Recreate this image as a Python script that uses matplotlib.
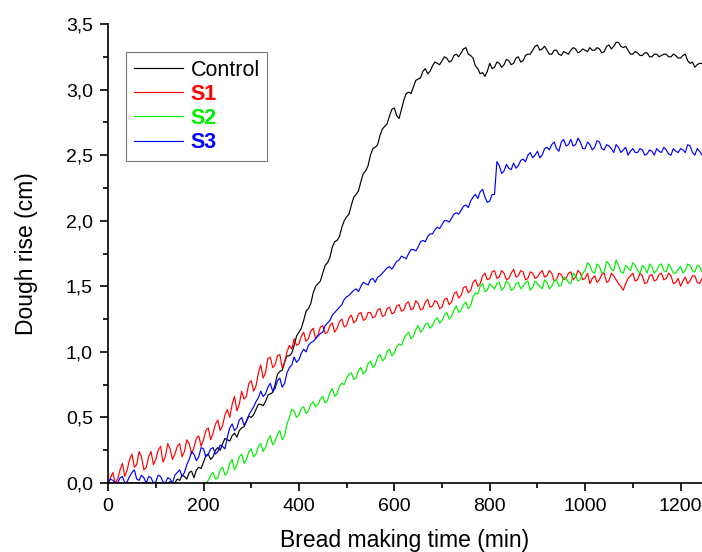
import numpy as np
import matplotlib
matplotlib.use("Agg")
import matplotlib.pyplot as plt
from matplotlib.ticker import MultipleLocator, FuncFormatter

plt.rcParams['font.family'] = ['Liberation Sans', 'DejaVu Sans']

# readings every 10 min (t = 0, 10, ..., 1250)
time_min = list(range(0, 1251, 10))
# readings in between (t = 5, 15, ..., 1245)
time_mid = list(range(5, 1250, 10))

control = [0.0, 0.0, 0.0, 0.0, 0.0, 0.0, 0.0, 0.0, 0.0, 0.0,
           0.0, 0.0, 0.0, 0.01, 0.0, 0.02, 0.05, 0.08, 0.04, 0.12,
           0.16, 0.22, 0.20, 0.27, 0.30, 0.33, 0.36, 0.35, 0.42, 0.47,
           0.50, 0.56, 0.60, 0.62, 0.68, 0.75, 0.85, 0.92, 0.97, 1.05,
           1.15, 1.24, 1.33, 1.45, 1.52, 1.60, 1.68, 1.80, 1.85, 1.95,
           2.03, 2.12, 2.20, 2.30, 2.38, 2.50, 2.56, 2.65, 2.72, 2.80,
           2.86, 2.78, 2.92, 2.98, 3.02, 3.08, 3.14, 3.12, 3.18, 3.20,
           3.22, 3.24, 3.22, 3.27, 3.28, 3.32, 3.26, 3.18, 3.12, 3.10,
           3.20, 3.17, 3.20, 3.19, 3.22, 3.20, 3.25, 3.22, 3.27, 3.30,
           3.34, 3.31, 3.30, 3.27, 3.30, 3.26, 3.28, 3.30, 3.31, 3.29,
           3.30, 3.32, 3.30, 3.31, 3.29, 3.34, 3.33, 3.36, 3.32, 3.30,
           3.27, 3.28, 3.26, 3.28, 3.25, 3.27, 3.26, 3.27, 3.25, 3.26,
           3.24, 3.27, 3.20, 3.17, 3.20, 3.18]
control_mid = [0.0, 0.0, 0.0, 0.0, 0.0, 0.0, 0.0, 0.0, 0.0, 0.0,
               0.0, 0.0, 0.0, 0.0, 0.03, 0.06, 0.03, 0.09, 0.10, 0.11,
               0.21, 0.18, 0.25, 0.25, 0.34, 0.32, 0.38, 0.40, 0.43, 0.51,
               0.52, 0.60, 0.59, 0.67, 0.69, 0.83, 0.86, 0.97, 0.99, 1.12,
               1.18, 1.31, 1.37, 1.50, 1.54, 1.66, 1.72, 1.84, 1.88, 2.00,
               2.05, 2.18, 2.23, 2.36, 2.42, 2.55, 2.58, 2.70, 2.74, 2.85,
               2.80, 2.85, 2.97, 2.97, 3.07, 3.09, 3.16, 3.14, 3.21, 3.19,
               3.25, 3.21, 3.26, 3.25, 3.31, 3.27, 3.24, 3.16, 3.13, 3.14,
               3.16, 3.21, 3.17, 3.23, 3.19, 3.24, 3.21, 3.26, 3.27, 3.33,
               3.30, 3.33, 3.27, 3.30, 3.27, 3.29, 3.27, 3.32, 3.28, 3.31,
               3.29, 3.30, 3.32, 3.28, 3.33, 3.31, 3.36, 3.33, 3.33, 3.27,
               3.29, 3.26, 3.28, 3.25, 3.27, 3.25, 3.27, 3.25, 3.27, 3.24,
               3.26, 3.22, 3.21, 3.19, 3.20]

s1 = [0.0, 0.08, 0.03, 0.15, 0.10, 0.22, 0.14, 0.20, 0.12, 0.24,
      0.18, 0.28, 0.20, 0.26, 0.22, 0.30, 0.24, 0.30, 0.27, 0.36,
      0.33, 0.42, 0.38, 0.48, 0.44, 0.56, 0.60, 0.55, 0.70, 0.66,
      0.78, 0.74, 0.90, 0.84, 0.96, 0.90, 0.98, 0.92, 1.05, 1.10,
      1.06, 1.15, 1.10, 1.18, 1.13, 1.20, 1.15, 1.22, 1.18, 1.25,
      1.20, 1.28, 1.24, 1.30, 1.25, 1.30, 1.27, 1.33, 1.28, 1.34,
      1.30, 1.36, 1.32, 1.38, 1.33, 1.37, 1.33, 1.40, 1.35, 1.38,
      1.34, 1.41, 1.38, 1.46, 1.43, 1.50, 1.47, 1.55, 1.52, 1.60,
      1.56, 1.62, 1.57, 1.60, 1.56, 1.63, 1.58, 1.61, 1.56, 1.60,
      1.57, 1.62, 1.58, 1.60, 1.55, 1.59, 1.56, 1.61, 1.57, 1.60,
      1.56, 1.52, 1.58, 1.55, 1.60, 1.54, 1.58, 1.52, 1.47, 1.56,
      1.60, 1.55, 1.58, 1.53, 1.59, 1.55, 1.60, 1.56, 1.58, 1.53,
      1.50, 1.57, 1.54, 1.58, 1.52, 1.55]
s1_mid = [0.04, 0.0, 0.10, 0.05, 0.18, 0.12, 0.24, 0.10, 0.20, 0.14,
          0.25, 0.16, 0.30, 0.18, 0.28, 0.20, 0.33, 0.22, 0.34, 0.28,
          0.40, 0.33, 0.45, 0.40, 0.52, 0.50, 0.66, 0.60, 0.64, 0.76,
          0.70, 0.84, 0.80, 0.95, 0.88, 0.97, 0.88, 1.00, 1.02, 1.05,
          1.12, 1.08, 1.16, 1.10, 1.19, 1.14, 1.20, 1.15, 1.23, 1.19,
          1.26, 1.22, 1.29, 1.24, 1.30, 1.26, 1.32, 1.27, 1.33, 1.29,
          1.35, 1.31, 1.37, 1.32, 1.39, 1.32, 1.38, 1.34, 1.39, 1.33,
          1.40, 1.36, 1.44, 1.41, 1.49, 1.45, 1.53, 1.50, 1.58, 1.55,
          1.61, 1.56, 1.62, 1.55, 1.60, 1.57, 1.62, 1.55, 1.61, 1.56,
          1.60, 1.57, 1.62, 1.54, 1.60, 1.55, 1.60, 1.55, 1.62, 1.55,
          1.60, 1.56, 1.53, 1.59, 1.53, 1.60, 1.55, 1.50, 1.52, 1.58,
          1.54, 1.60, 1.52, 1.58, 1.54, 1.59, 1.55, 1.60, 1.52, 1.56,
          1.54, 1.52, 1.58, 1.53, 1.56]

s2 = [-0.08, -0.08, -0.08, -0.08, -0.08, -0.08, -0.08, -0.08, -0.08, -0.08,
      -0.08, -0.08, -0.08, -0.08, -0.08, -0.08, -0.08, -0.08, -0.08, -0.06,
      -0.02, 0.02, 0.08, 0.04, 0.12, 0.08, 0.18, 0.14, 0.22, 0.18,
      0.26, 0.22, 0.30, 0.27, 0.36, 0.32, 0.40, 0.36, 0.50, 0.55,
      0.52, 0.58, 0.55, 0.62, 0.60, 0.66, 0.63, 0.72, 0.68, 0.76,
      0.80, 0.84, 0.80, 0.88, 0.85, 0.93, 0.90, 0.98, 0.95, 1.02,
      0.99, 1.06, 1.10, 1.15, 1.12, 1.20, 1.17, 1.22, 1.20, 1.26,
      1.24, 1.30, 1.27, 1.35, 1.32, 1.38, 1.35, 1.45, 1.50, 1.46,
      1.52, 1.48, 1.53, 1.49, 1.52, 1.48, 1.53, 1.50, 1.54, 1.49,
      1.52, 1.48, 1.53, 1.50, 1.55, 1.51, 1.56, 1.52, 1.58, 1.55,
      1.62, 1.66, 1.60, 1.65, 1.61, 1.67, 1.62, 1.66, 1.60, 1.64,
      1.68, 1.62, 1.66, 1.60, 1.65, 1.62, 1.67, 1.61, 1.64, 1.60,
      1.65, 1.62, 1.66, 1.61, 1.65, 1.63]
s2_mid = [-0.08, -0.08, -0.08, -0.08, -0.08, -0.08, -0.08, -0.08, -0.08, -0.08,
          -0.08, -0.08, -0.08, -0.08, -0.08, -0.08, -0.08, -0.08, -0.08, -0.04,
          0.0, 0.06, 0.03, 0.10, 0.06, 0.15, 0.10, 0.20, 0.15, 0.24,
          0.20, 0.28, 0.24, 0.33, 0.29, 0.37, 0.33, 0.45, 0.56, 0.50,
          0.57, 0.53, 0.60, 0.58, 0.64, 0.61, 0.69, 0.66, 0.74, 0.75,
          0.83, 0.79, 0.86, 0.83, 0.91, 0.88, 0.96, 0.93, 1.00, 0.97,
          1.04, 1.05, 1.13, 1.10, 1.17, 1.15, 1.21, 1.18, 1.24, 1.22,
          1.28, 1.25, 1.32, 1.30, 1.36, 1.33, 1.42, 1.44, 1.52, 1.47,
          1.50, 1.52, 1.47, 1.54, 1.47, 1.52, 1.48, 1.53, 1.47, 1.54,
          1.50, 1.55, 1.48, 1.54, 1.50, 1.57, 1.53, 1.60, 1.54, 1.60,
          1.68, 1.61, 1.67, 1.60, 1.69, 1.63, 1.70, 1.61, 1.66, 1.62,
          1.66, 1.60, 1.64, 1.67, 1.60, 1.66, 1.62, 1.67, 1.60, 1.63,
          1.60, 1.67, 1.62, 1.66, 1.61]

s3 = [0.0, 0.02, 0.0, 0.05, 0.01, 0.08, 0.03, 0.06, 0.0, 0.04,
      0.01, 0.05, 0.0, 0.03, 0.06, 0.10, 0.08, 0.18, 0.22, 0.20,
      0.26, 0.22, 0.27, 0.24, 0.28, 0.35, 0.45, 0.42, 0.50, 0.47,
      0.55, 0.62, 0.70, 0.68, 0.76, 0.72, 0.80, 0.76, 0.88, 0.96,
      0.94, 1.02, 1.05, 1.08, 1.12, 1.15, 1.22, 1.28, 1.32, 1.36,
      1.42, 1.45, 1.48, 1.50, 1.52, 1.55, 1.53, 1.58, 1.62, 1.65,
      1.66, 1.70, 1.72, 1.75, 1.78, 1.80, 1.85, 1.88, 1.90, 1.95,
      1.97, 2.00, 2.02, 2.06, 2.08, 2.12, 2.15, 2.20, 2.22, 2.18,
      2.15, 2.20, 2.42, 2.38, 2.40, 2.44, 2.42, 2.47, 2.50, 2.48,
      2.53, 2.50, 2.56, 2.58, 2.55, 2.60, 2.57, 2.62, 2.58, 2.60,
      2.55, 2.58, 2.56, 2.60, 2.54, 2.57, 2.52, 2.56, 2.54, 2.50,
      2.55, 2.52, 2.54, 2.51, 2.53, 2.55, 2.52, 2.54, 2.50, 2.53,
      2.55, 2.52, 2.57, 2.50, 2.53, 2.48]
s3_mid = [0.03, 0.0, 0.04, 0.0, 0.05, 0.10, 0.02, 0.04, 0.05, 0.0,
          0.06, 0.01, 0.04, 0.0, 0.08, 0.05, 0.14, 0.24, 0.17, 0.27,
          0.20, 0.26, 0.22, 0.29, 0.26, 0.42, 0.40, 0.48, 0.44, 0.52,
          0.58, 0.65, 0.66, 0.73, 0.70, 0.78, 0.73, 0.84, 0.90, 0.92,
          0.99, 1.00, 1.07, 1.10, 1.14, 1.20, 1.24, 1.30, 1.34, 1.40,
          1.43, 1.47, 1.46, 1.53, 1.51, 1.56, 1.57, 1.60, 1.64, 1.63,
          1.69, 1.73, 1.71, 1.78, 1.77, 1.84, 1.84, 1.90, 1.93, 1.94,
          2.00, 1.99, 2.05, 2.05, 2.11, 2.10, 2.18, 2.17, 2.24, 2.14,
          2.20, 2.45, 2.36, 2.43, 2.39, 2.40, 2.46, 2.45, 2.52, 2.50,
          2.48, 2.55, 2.54, 2.60, 2.53, 2.62, 2.58, 2.57, 2.63, 2.55,
          2.60, 2.54, 2.61, 2.55, 2.58, 2.55, 2.58, 2.52, 2.56, 2.53,
          2.52, 2.55, 2.50, 2.54, 2.50, 2.53, 2.56, 2.51, 2.55, 2.52,
          2.54, 2.58, 2.52, 2.55, 2.50]

series_names = ["Control", "S1", "S2", "S3"]
series_colors = ["#000000", "#ff0000", "#00ee00", "#0000ff"]
xticks = [0, 200, 400, 600, 800, 1000, 1200]
yticks = [0.0, 0.5, 1.0, 1.5, 2.0, 2.5, 3.0, 3.5]


def merge(t_a, v_a, t_b, v_b):
    pts = sorted(zip(list(t_a) + list(t_b), list(v_a) + list(v_b)))
    return [p[0] for p in pts], [p[1] for p in pts]


fig = plt.figure(figsize=(7.02, 5.52), dpi=100)
ax = fig.add_axes([0.154, 0.125, 0.846, 0.8315])

for name, vals, mids, col in zip(series_names, [control, s1, s2, s3],
                                 [control_mid, s1_mid, s2_mid, s3_mid], series_colors):
    tt, vv = merge(time_min, vals, time_mid, mids)
    ax.plot(tt, vv, color=col, lw=0.85, label=name)

ax.set_xlim(0, 1245)
ax.set_ylim(0, 3.5)
ax.set_xticks(xticks)
ax.set_yticks(yticks)
ax.xaxis.set_minor_locator(MultipleLocator(100))
ax.yaxis.set_minor_locator(MultipleLocator(0.25))
ax.yaxis.set_major_formatter(FuncFormatter(lambda v, p: f"{v:.1f}".replace(".", ",")))
ax.tick_params(which='major', direction='out', length=6, width=1.2, labelsize=14, pad=5)
ax.tick_params(which='minor', direction='out', length=3.5, width=1.2)
for s in ['top', 'right']:
    ax.spines[s].set_visible(False)
for s in ['left', 'bottom']:
    ax.spines[s].set_linewidth(1.2)

ax.set_xlabel("Bread making time (min)", fontsize=16.5, labelpad=10)
ax.set_ylabel("Dough rise (cm)", fontsize=16.5, labelpad=20)

leg = ax.legend(loc='upper left', bbox_to_anchor=(0.0303, 0.939), fontsize=15.5,
                frameon=True, fancybox=False, edgecolor='#555555',
                handlelength=2.3, handletextpad=0.35, labelspacing=0.15,
                borderpad=0.35, borderaxespad=0)
leg.get_frame().set_linewidth(0.8)
for txt, col in zip(leg.get_texts(), series_colors):
    if txt.get_text() != "Control":
        txt.set_color(col)
        txt.set_fontweight('bold')

fig.savefig("out.png", dpi=100)
